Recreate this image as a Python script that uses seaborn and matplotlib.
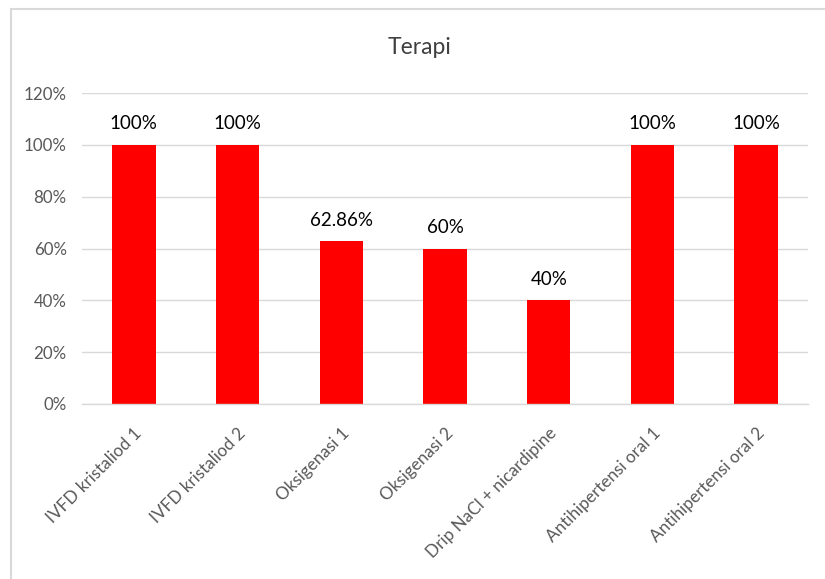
import matplotlib
matplotlib.use("Agg")
import matplotlib.pyplot as plt
import seaborn as sns
import pandas as pd
from matplotlib.patches import Rectangle

categories = ["IVFD kristaliod 1", "IVFD kristaliod 2", "Oksigenasi 1", "Oksigenasi 2",
              "Drip NaCl + nicardipine", "Antihipertensi oral 1", "Antihipertensi oral 2"]
values = [100, 100, 62.86, 60, 40, 100, 100]
value_labels = ["100%", "100%", "62.86%", "60%", "40%", "100%", "100%"]
yticks = [0, 20, 40, 60, 80, 100, 120]
ytick_labels = ["0%", "20%", "40%", "60%", "80%", "100%", "120%"]

sns.set_theme(style="white")
plt.rcParams['font.family'] = ['Lato', 'DejaVu Sans']

df = pd.DataFrame({"cat": categories, "val": values})

fig = plt.figure(figsize=(8.25, 5.79), dpi=100)
ax = fig.add_axes([82/825, 1-404/579, (808-82)/825, (404-93)/579])

sns.barplot(data=df, x="cat", y="val", color="#ff0000", width=0.42, ax=ax,
            saturation=1, edgecolor="none")

ax.set_ylim(0, 120)
ax.set_xlim(-0.5, len(categories)-0.5)
ax.set_yticks(yticks)
ax.set_yticklabels(ytick_labels, color="#595959", fontsize=12.2)
ax.yaxis.grid(True, color="#d9d9d9", linewidth=1)
ax.set_axisbelow(True)
for s in ["top", "right", "left"]:
    ax.spines[s].set_visible(False)
ax.spines["bottom"].set_color("#d9d9d9")
ax.spines["bottom"].set_linewidth(1)
ax.tick_params(axis="y", length=0, pad=11)
ax.tick_params(axis="x", length=0, pad=15)
ax.set_xlabel("")
ax.set_ylabel("")
ax.set_xticks(range(len(categories)))
ax.set_xticklabels(categories, rotation=45, ha="right", rotation_mode="anchor",
                   color="#595959", fontsize=12.3)

for i, (v, lab) in enumerate(zip(values, value_labels)):
    ax.annotate(lab, (i, v), xytext=(0, 9), textcoords="offset points",
                ha="center", va="bottom", fontsize=13.5, color="#000000")

fig.text(420/825, 1-48/579, "Terapi", ha="center", va="center", fontsize=16.5, color="#404040")

fig.patches.append(Rectangle((11/825, -0.1), 1.2, 1.1 - 9/579, transform=fig.transFigure,
                             fill=False, edgecolor="#d9d9d9", linewidth=1.5, zorder=10))

fig.savefig("out.png", dpi=100)
